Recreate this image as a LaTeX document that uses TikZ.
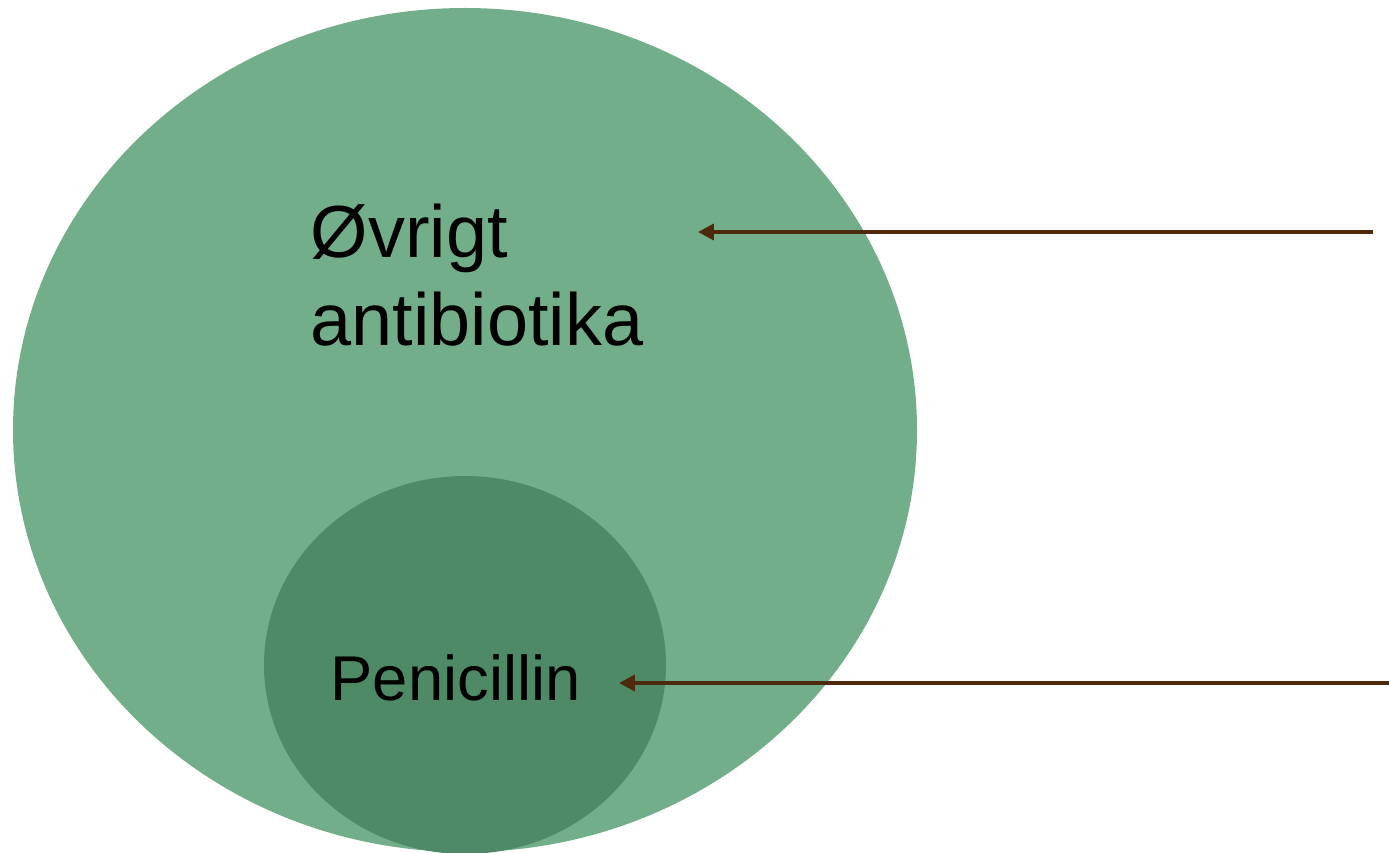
\documentclass[tikz,border=0pt]{standalone}
\usepackage{fontspec}
\setmainfont{Liberation Sans}
\usetikzlibrary{arrows.meta}
\definecolor{outergreen}{HTML}{73AE8A}
\definecolor{innergreen}{HTML}{4E8A66}
\definecolor{arrowbrown}{HTML}{4D2A0D}
\begin{document}
\begin{tikzpicture}[x=0.01cm,y=-0.01cm,
        pointer/.style={draw=arrowbrown,line width=1.15pt,-{Triangle[length=4.5pt,width=4.5pt]}},
        label/.style={inner sep=0pt,align=left}]
    \useasboundingbox (0,0) rectangle (1389,852);
    \clip (0,0) rectangle (1389,852);
    \begin{scope}
        \fill[outergreen] (465,430) ellipse ({452} and {422});
        \fill[innergreen] (465,665) ellipse ({201} and {189});
    \end{scope}
    \node[label,anchor=north west,font=\fontsize{21}{25}\selectfont] (other) at (310,203) {Øvrigt\\antibiotika};
    \node[label,anchor=base west,font=\fontsize{18}{22}\selectfont] (pen) at (330,700) {Penicillin};
    \coordinate (otherend) at (1373,232);
    \coordinate (othertip) at (698,232);
    \coordinate (penend) at (1389,683);
    \coordinate (pentip) at (619,683);
    \draw[pointer] (otherend) -- (othertip);
    \draw[pointer] (penend) -- (pentip);
\end{tikzpicture}
\end{document}
